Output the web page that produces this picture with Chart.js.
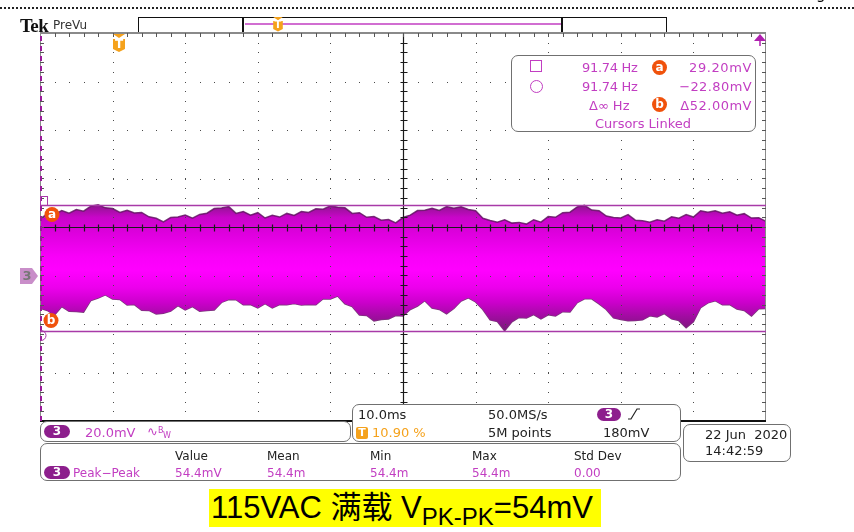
<!DOCTYPE html>
<html>
<head>
<meta charset="utf-8">
<script src="https://cdn.jsdelivr.net/npm/chart.js@4.4.1/dist/chart.umd.min.js"></script>
<style>
  html, body { margin: 0; padding: 0; background: #fff; }
  body { width: 854px; height: 532px; position: relative; overflow: hidden; font-family: 'DejaVu Sans', sans-serif; }
  #scope { position: absolute; left: 0; top: 0; }
  .t { position: absolute; white-space: pre; line-height: 13px; font-size: 13px; }
  .s { font-size: 12px; line-height: 12px; }
  .mag { color: #c23ec2; }
  .blk { color: #222; }
  .box { position: absolute; border: 1.5px solid #707070; border-radius: 7px; background: #fff; box-sizing: border-box; }
  .pill { position: absolute; background: #8d1f8d; color: #fff; border-radius: 7px; font-size: 12px; font-weight: bold; line-height: 13px; height: 13px; text-align: center; }
  .dot { position: absolute; width: 15px; height: 15px; border-radius: 50%; background: #f0520c; color: #fff; font-size: 12px; font-weight: bold; line-height: 14px; text-align: center; }
  #caption { position: absolute; left: 209px; top: 489px; width: 392px; height: 38px; background: #ffff00; color: #000;
             font-family: 'Liberation Sans', 'Noto Sans CJK SC', sans-serif; font-size: 31px; line-height: 38px; white-space: pre; padding-left: 2px; box-sizing: border-box; overflow: hidden; }
  #caption sub { font-size: 24px; vertical-align: baseline; position: relative; top: 7px; }
</style>
</head>
<body>
<canvas id="scope" width="854" height="532"></canvas>

<!-- header -->
<div class="t" style="left:816px; top:-13px; font-size:15px; line-height:15px;">g</div>
<div class="t" style="left:20px; top:16px; font-family:'Liberation Serif', serif; font-weight:bold; font-size:19px; line-height:19px; letter-spacing:-0.6px; color:#111;">Tek</div>
<div class="t" style="left:53px; top:19px; font-size:12px; line-height:12px; color:#333;">PreVu</div>

<!-- cursor readout -->
<div class="box" style="left:511px; top:55px; width:245px; height:77px;"></div>
<div style="position:absolute; left:530px; top:60px; width:12px; height:12px; border:1.5px solid #c23ec2; box-sizing:border-box;"></div>
<div class="t mag" style="left:582px; top:61px; letter-spacing:-0.3px;">91.74 Hz</div>
<div class="dot" style="left:652px; top:60px;">a</div>
<div class="t mag" style="right:102px; top:61px; letter-spacing:0.6px;">29.20mV</div>
<div style="position:absolute; left:530px; top:80px; width:13px; height:13px; border:1.5px solid #c23ec2; border-radius:50%; box-sizing:border-box;"></div>
<div class="t mag" style="left:582px; top:80px; letter-spacing:-0.3px;">91.74 Hz</div>
<div class="t mag" style="right:102px; top:80px; letter-spacing:0.4px;">−22.80mV</div>
<div class="t mag" style="left:589px; top:99px;">Δ∞ Hz</div>
<div class="dot" style="left:652px; top:97px;">b</div>
<div class="t mag" style="right:102px; top:99px; letter-spacing:0.5px;">Δ52.00mV</div>
<div class="t mag" style="left:553px; width:180px; text-align:center; top:117px;">Cursors Linked</div>

<!-- channel settings -->
<div class="box" style="left:40px; top:421px; width:311px; height:21px;"></div>
<div class="pill" style="left:44px; top:425px; width:26px;">3</div>
<div class="t mag" style="left:85px; top:426px;">20.0mV</div>
<div class="t mag" style="left:147px; top:425px;">∿<span style="font-size:8px; position:relative; top:-3px;">B</span><span style="font-size:8px; position:relative; top:2px;">W</span></div>

<!-- timebase / acquisition -->
<div class="box" style="left:352px; top:404px; width:329px; height:38px;"></div>
<div class="t blk" style="left:358px; top:408px;">10.0ms</div>
<div class="t blk" style="left:488px; top:408px;">50.0MS/s</div>
<div class="pill" style="left:597px; top:408px; width:24px;">3</div>
<svg style="position:absolute; left:626px; top:407px;" width="16" height="14"><polyline points="2,12 5,12 11,2 14,2" fill="none" stroke="#222" stroke-width="1.2"/></svg>
<div style="position:absolute; left:356px; top:427px; width:12px; height:12px; background:#f5a21c; border-radius:2px; color:#fff; font-size:11px; font-weight:bold; line-height:12px; text-align:center;">T</div>
<div class="t" style="left:372px; top:426px; color:#f5a21c;">10.90 %</div>
<div class="t blk" style="left:488px; top:426px;">5M points</div>
<div class="t blk" style="left:603px; top:426px;">180mV</div>

<!-- date -->
<div class="box" style="left:683px; top:424px; width:108px; height:38px;"></div>
<div class="t blk" style="left:705px; top:428px;">22 Jun  2020</div>
<div class="t blk" style="left:705px; top:444px;">14:42:59</div>

<!-- measurement -->
<div class="box" style="left:40px; top:443px; width:641px; height:38px;"></div>
<div class="t s blk" style="left:175px; top:450px;">Value</div>
<div class="t s blk" style="left:267px; top:450px;">Mean</div>
<div class="t s blk" style="left:370px; top:450px;">Min</div>
<div class="t s blk" style="left:472px; top:450px;">Max</div>
<div class="t s blk" style="left:574px; top:450px;">Std Dev</div>
<div class="pill" style="left:44px; top:466px; width:26px;">3</div>
<div class="t s mag" style="left:73px; top:467px;">Peak−Peak</div>
<div class="t s mag" style="left:175px; top:467px;">54.4mV</div>
<div class="t s mag" style="left:267px; top:467px;">54.4m</div>
<div class="t s mag" style="left:370px; top:467px;">54.4m</div>
<div class="t s mag" style="left:472px; top:467px;">54.4m</div>
<div class="t s mag" style="left:574px; top:467px;">0.00</div>

<div id="caption">115VAC 满载 V<sub>PK-PK</sub>=54mV</div>

<script>
// Acquisition: 10 ms/div, 10 divisions; channel 3 at 20 mV/div, centre at +20 mV
const timeMs = [
  0,1,2,3,4,5,6,7,8,9,10,11,12,13,14,15,16,17,18,19,20,21,22,23,24,25,26,27,28,29,30,
  31,32,33,34,35,36,37,38,39,40,41,42,43,44,45,46,47,48,49,50,51,52,53,54,55,56,57,58,59,60,
  61,62,63,64,65,66,67,68,69,70,71,72,73,74,75,76,77,78,79,80,81,82,83,84,85,86,87,88,89,90,
  91,92,93,94,95,96,97,98,99,100
];
// upper envelope of the ripple band (mV)
const upperMv = [
  23.3,25.4,25.2,26.8,25.7,27.2,26.5,28.6,29.2,27.9,27.6,26.0,26.9,25.8,26.0,24.2,23.6,22.1,23.9,24.1,24.9,
  23.6,25.2,25.7,27.6,27.8,28.4,25.6,26.4,24.9,25.9,23.7,24.8,24.1,25.6,24.8,26.4,26.0,27.5,27.3,28.7,
  28.1,27.9,25.6,25.9,24.0,24.3,22.8,23.1,21.7,23.9,24.9,26.8,26.9,27.7,26.8,28.4,27.7,28.3,27.2,26.7,
  23.6,22.7,22.0,23.0,21.6,21.9,21.2,23.0,22.0,24.3,24.0,25.9,26.1,28.3,28.9,27.0,26.7,24.5,23.9,23.7,
  25.1,22.8,22.6,22.0,23.0,22.4,24.2,23.6,25.1,24.1,26.7,26.1,26.7,25.7,26.3,24.9,25.5,23.7,23.8,22.3
];
// lower envelope of the ripple band (mV)
const lowerMv = [
  -13.5,-14.4,-16.3,-12.8,-14.7,-14.8,-15.1,-10.3,-9.3,-8.0,-9.7,-9.9,-12.2,-12.0,-14.3,-14.4,-15.9,-15.6,-14.7,-12.4,-14.2,
  -12.8,-14.7,-14.4,-14.2,-11.1,-9.9,-10.0,-12.1,-12.0,-13.4,-11.6,-13.4,-12.0,-12.1,-11.6,-12.2,-12.0,-12.1,-9.6,-9.7,
  -8.5,-11.7,-12.8,-16.3,-16.5,-18.7,-18.1,-17.9,-16.5,-16.7,-14.0,-12.6,-10.4,-13.4,-14.0,-15.8,-13.6,-10.5,-9.2,-10.9,
  -14.0,-18.3,-19.0,-22.8,-19.1,-17.3,-17.5,-16.1,-17.9,-16.2,-16.7,-14.9,-15.0,-11.2,-9.6,-9.6,-11.7,-14.0,-17.5,-18.1,
  -18.7,-18.6,-18.3,-16.6,-17.1,-15.7,-17.9,-18.6,-21.5,-19.1,-13.2,-11.3,-10.4,-12.1,-12.0,-13.8,-14.4,-16.7,-13.7,-13.6
];
// cursor readings (mV), trigger position (ms), channel ground (mV)
const cursorA = 29.20;
const cursorB = -22.80;
const triggerMs = 10.9;
const groundMv = 0;
// graticule
const xTicksMs = [0,10,20,30,40,50,60,70,80,90,100];
const yTicksMv = [-60,-40,-20,0,20,40,60,80,100];
const centerMs = 50, centerMv = 20;

const upperPts = timeMs.map((t, i) => ({ x: t, y: upperMv[i] }));
const lowerPts = timeMs.map((t, i) => ({ x: t, y: lowerMv[i] }));

function bandFill(context) {
  const chart = context.chart;
  const area = chart.chartArea;
  if (!area) return '#e000e0';
  const y = chart.scales.y;
  const top = y.getPixelForValue(31), bot = y.getPixelForValue(-24), span = bot - top;
  const g = chart.ctx.createLinearGradient(0, top, 0, bot);
  const stop = (mv, c) => g.addColorStop(Math.min(1, Math.max(0, (y.getPixelForValue(mv) - top) / span)), c);
  stop(31, '#701c70');
  stop(27.5, '#a010a0');
  stop(24, '#c806c8');
  stop(18, '#dc00dc');
  stop(8, '#f800f8');
  stop(2, '#ff00ff');
  stop(-5, '#ec00ec');
  stop(-11, '#cc00cc');
  stop(-17, '#a00ca0');
  stop(-24, '#701c70');
  return g;
}

const scopeOverlay = {
  id: 'scopeOverlay',
  beforeDraw(chart) {
    const ctx = chart.ctx;
    ctx.save();
    // dotted header rule
    ctx.strokeStyle = '#222';
    ctx.lineWidth = 2;
    ctx.setLineDash([2, 2]);
    ctx.beginPath(); ctx.moveTo(0, 8); ctx.lineTo(854, 8); ctx.stroke();
    ctx.setLineDash([]);
    // record view bar
    ctx.lineWidth = 1;
    ctx.strokeStyle = '#111';
    ctx.strokeRect(138.5, 17.5, 528, 15);
    ctx.lineWidth = 2;
    ctx.beginPath(); ctx.moveTo(243, 17); ctx.lineTo(243, 33); ctx.moveTo(562, 17); ctx.lineTo(562, 33); ctx.stroke();
    ctx.strokeStyle = '#c23ec2';
    ctx.lineWidth = 1.5;
    ctx.beginPath(); ctx.moveTo(245, 24); ctx.lineTo(561, 24); ctx.stroke();
    drawTrigger(ctx, 278, 17, 0.8);
    ctx.restore();
  },
  afterDatasetsDraw(chart) {
    const { ctx, chartArea: a, scales: { x, y } } = chart;
    const px = v => x.getPixelForValue(v);
    const py = v => y.getPixelForValue(v);
    const minorX = (px(10) - px(0)) / 5;
    const minorY = (py(0) - py(20)) / 5;
    ctx.save();

    // dotted graticule lines
    ctx.fillStyle = '#4a4a4a';
    xTicksMs.forEach(t => {
      if (t === 0 || t === 100 || t === centerMs) return;
      const gx = Math.round(px(t));
      for (let yy = a.top + minorY; yy < a.bottom - 1; yy += minorY) ctx.fillRect(gx, Math.round(yy), 1, 1);
    });
    yTicksMv.forEach(v => {
      if (v === -60 || v === 100 || v === centerMv) return;
      const gy = Math.round(py(v));
      for (let xx = a.left + minorX; xx < a.right - 1; xx += minorX) ctx.fillRect(Math.round(xx), gy, 1, 1);
    });

    // centre crosshair with minor ticks
    const cx = Math.round(px(centerMs)) + 0.5, cy = Math.round(py(centerMv)) + 0.5;
    ctx.strokeStyle = '#1a1a1a';
    ctx.lineWidth = 1.2;
    ctx.beginPath();
    ctx.moveTo(cx, a.top); ctx.lineTo(cx, a.bottom);
    ctx.moveTo(a.left, cy); ctx.lineTo(a.right, cy);
    for (let yy = a.top + minorY; yy < a.bottom - 1; yy += minorY) { ctx.moveTo(cx - 3, Math.round(yy) + 0.5); ctx.lineTo(cx + 4, Math.round(yy) + 0.5); }
    for (let xx = a.left + minorX; xx < a.right - 1; xx += minorX) { ctx.moveTo(Math.round(xx) + 0.5, cy - 3); ctx.lineTo(Math.round(xx) + 0.5, cy + 4); }
    ctx.stroke();

    // frame
    ctx.strokeStyle = '#8a8a8a';
    ctx.lineWidth = 1;
    ctx.strokeRect(a.left + 0.5, a.top + 0.5, a.right - a.left - 1, a.bottom - a.top - 1);
    ctx.lineWidth = 2;
    ctx.beginPath(); ctx.moveTo(a.left, a.top); ctx.lineTo(a.right, a.top); ctx.stroke();
    ctx.strokeStyle = '#111';
    ctx.beginPath(); ctx.moveTo(a.left, a.bottom); ctx.lineTo(a.right, a.bottom); ctx.stroke();
    // edge ticks
    ctx.strokeStyle = '#555';
    ctx.lineWidth = 1;
    ctx.beginPath();
    for (let xx = a.left + minorX; xx < a.right - 1; xx += minorX) { ctx.moveTo(Math.round(xx) + 0.5, a.top); ctx.lineTo(Math.round(xx) + 0.5, a.top + 4); }
    for (let yy = a.top + minorY; yy < a.bottom - 1; yy += minorY) {
      ctx.moveTo(a.left, Math.round(yy) + 0.5); ctx.lineTo(a.left + 4, Math.round(yy) + 0.5);
      ctx.moveTo(a.right - 4, Math.round(yy) + 0.5); ctx.lineTo(a.right, Math.round(yy) + 0.5);
    }
    ctx.stroke();
    // channel-coloured left edge
    ctx.strokeStyle = '#9a1a9a';
    ctx.lineWidth = 2;
    ctx.setLineDash([5, 5]);
    ctx.beginPath(); ctx.moveTo(a.left + 1, a.top + 3); ctx.lineTo(a.left + 1, a.bottom); ctx.stroke();
    ctx.setLineDash([]);

    // cursors
    const ya = Math.round(py(cursorA)) + 0.5, yb = Math.round(py(cursorB)) + 0.5;
    ctx.strokeStyle = '#a83aa8';
    ctx.lineWidth = 1.3;
    ctx.beginPath(); ctx.moveTo(a.left, ya); ctx.lineTo(a.right, ya); ctx.moveTo(a.left, yb); ctx.lineTo(a.right, yb); ctx.stroke();
    ctx.lineWidth = 1;
    ctx.strokeRect(a.left + 0.5, ya - 9, 7, 9);
    ctx.beginPath(); ctx.arc(a.left + 1, yb + 4, 5, -Math.PI / 2, Math.PI / 2); ctx.stroke();
    drawCursorDot(ctx, a.left + 12, ya + 9, 'a');
    drawCursorDot(ctx, a.left + 11, yb - 11, 'b');

    // channel ground marker
    const gy = Math.round(py(groundMv));
    ctx.fillStyle = '#c98ec9';
    ctx.beginPath();
    ctx.moveTo(20, gy - 8); ctx.lineTo(32, gy - 8); ctx.lineTo(38, gy); ctx.lineTo(32, gy + 8); ctx.lineTo(20, gy + 8); ctx.closePath();
    ctx.fill();
    ctx.fillStyle = '#777';
    ctx.font = 'bold 13px "DejaVu Sans"';
    ctx.textAlign = 'center'; ctx.textBaseline = 'middle';
    ctx.fillText('3', 27, gy + 1);

    // trigger position marker
    drawTrigger(ctx, Math.round(px(triggerMs)), a.top + 1, 1);

    // trigger level arrow, top right
    const ax = a.right - 6;
    ctx.fillStyle = '#b01fb0'; ctx.strokeStyle = '#b01fb0'; ctx.lineWidth = 1.5;
    ctx.beginPath(); ctx.moveTo(ax - 6, a.top + 8); ctx.lineTo(ax + 6, a.top + 8); ctx.lineTo(ax, a.top + 1); ctx.closePath(); ctx.fill();
    ctx.beginPath(); ctx.moveTo(ax, a.top + 8); ctx.lineTo(ax, a.top + 13); ctx.stroke();
    ctx.restore();
  }
};

function drawCursorDot(ctx, cx, cy, ch) {
  ctx.fillStyle = '#f0520c';
  ctx.beginPath(); ctx.arc(cx, cy, 7.5, 0, Math.PI * 2); ctx.fill();
  ctx.fillStyle = '#fff';
  ctx.font = 'bold 12px "DejaVu Sans"';
  ctx.textAlign = 'center'; ctx.textBaseline = 'middle';
  ctx.fillText(ch, cx, cy);
}

function drawTrigger(ctx, tx, top, s) {
  ctx.fillStyle = '#f5a21c';
  ctx.beginPath(); ctx.moveTo(tx - 6 * s, top); ctx.lineTo(tx + 6 * s, top); ctx.lineTo(tx, top + 4 * s); ctx.closePath(); ctx.fill();
  ctx.beginPath();
  ctx.moveTo(tx - 6 * s, top + 5 * s); ctx.lineTo(tx + 6 * s, top + 5 * s); ctx.lineTo(tx + 6 * s, top + 15 * s);
  ctx.lineTo(tx, top + 18 * s); ctx.lineTo(tx - 6 * s, top + 15 * s); ctx.closePath(); ctx.fill();
  ctx.fillStyle = '#fff';
  ctx.font = 'bold ' + Math.round(12 * s) + 'px "DejaVu Sans"';
  ctx.textAlign = 'center'; ctx.textBaseline = 'middle';
  ctx.fillText('T', tx, top + 11 * s);
}

new Chart(document.getElementById('scope'), {
  type: 'line',
  data: {
    datasets: [
      { label: 'upper', data: upperPts, borderColor: 'rgba(100,20,100,0.85)', borderWidth: 1.5, pointRadius: 0, fill: '+1', backgroundColor: bandFill, tension: 0 },
      { label: 'lower', data: lowerPts, borderColor: 'rgba(100,20,100,0.85)', borderWidth: 1.5, pointRadius: 0, fill: false, tension: 0 }
    ]
  },
  options: {
    responsive: false,
    devicePixelRatio: 1,
    animation: false,
    layout: { padding: { left: 40, top: 33, right: 88, bottom: 111 } },
    plugins: { legend: { display: false }, tooltip: { enabled: false } },
    scales: {
      x: { type: 'linear', min: 0, max: 100, display: false },
      y: { type: 'linear', min: -60, max: 100, display: false }
    }
  },
  plugins: [scopeOverlay]
});
</script>
</body>
</html>
